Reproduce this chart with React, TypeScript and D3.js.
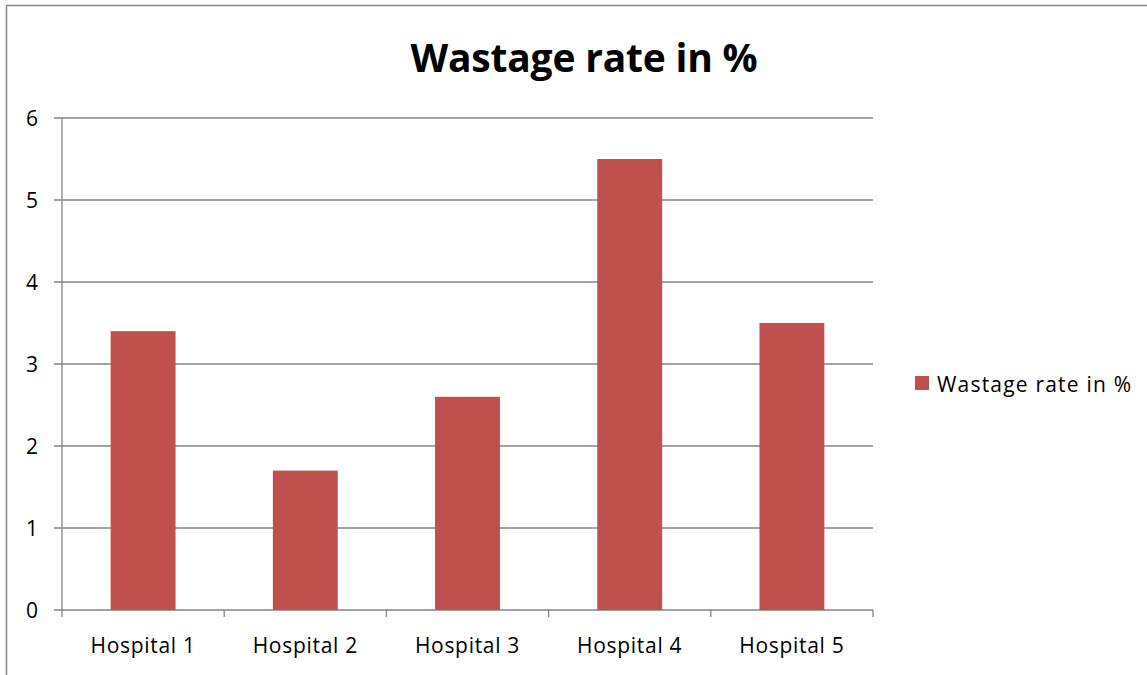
import React from "react";
import * as d3 from "d3";

const categories = ["Hospital 1", "Hospital 2", "Hospital 3", "Hospital 4", "Hospital 5"];
const wastageRate = [3.4, 1.7, 2.6, 5.5, 3.5];
const yTicks = [0, 1, 2, 3, 4, 5, 6];
const seriesName = "Wastage rate in %";
const chartTitle = "Wastage rate in %";

const W = 1147;
const H = 675;
const plot = { left: 62, right: 873, top: 118, bottom: 610 };
const barColor = "#C0504D";
const axisColor = "#868686";
const font = "'Open Sans', 'Noto Sans', sans-serif";

export default function App() {
  const x = d3
    .scaleBand<string>()
    .domain(categories)
    .range([plot.left, plot.right])
    .paddingInner(0.6)
    .paddingOuter(0.3);
  const band = d3.scaleBand<string>().domain(categories).range([plot.left, plot.right]);
  const y = d3.scaleLinear().domain([0, 6]).range([plot.bottom, plot.top]);

  return (
    <svg
      width={W}
      height={H}
      style={{ position: "fixed", left: 0, top: 0, background: "#fff", overflow: "hidden" }}
      fontFamily={font}
    >
      <rect x={6.5} y={5.5} width={W + 40} height={H + 40} fill="#fff" stroke={axisColor} strokeWidth={1.5} />
      <text x={584} y={72} textAnchor="middle" fontSize={39} fontWeight="bold" fill="#000" letterSpacing={-0.2}>
        {chartTitle}
      </text>
      {/* gridlines and y ticks */}
      {yTicks.map((t) => (
        <g key={t}>
          <line x1={plot.left - 8} x2={plot.right} y1={y(t)} y2={y(t)} stroke={axisColor} strokeWidth={1.3} />
          <text x={38} y={y(t)} dy="0.36em" textAnchor="end" fontSize={21} fill="#000">
            {t}
          </text>
        </g>
      ))}
      <line x1={plot.left} x2={plot.left} y1={plot.top} y2={plot.bottom + 1} stroke={axisColor} strokeWidth={1.3} />
      {/* category ticks */}
      {categories.map((c) => (
        <line
          key={"t" + c}
          x1={band(c)!}
          x2={band(c)!}
          y1={plot.bottom}
          y2={plot.bottom + 7}
          stroke={axisColor}
          strokeWidth={1.3}
        />
      ))}
      <line x1={plot.right} x2={plot.right} y1={plot.bottom} y2={plot.bottom + 7} stroke={axisColor} strokeWidth={1.3} />
      {/* bars */}
      {categories.map((c, i) => (
        <rect
          key={c}
          x={x(c)!}
          y={y(wastageRate[i])}
          width={x.bandwidth()}
          height={y(0) - y(wastageRate[i])}
          fill={barColor}
        />
      ))}
      {categories.map((c) => (
        <text
          key={"l" + c}
          x={band(c)! + band.bandwidth() / 2}
          y={653}
          textAnchor="middle"
          fontSize={21}
          fill="#000"
          letterSpacing={0.7}
        >
          {c}
        </text>
      ))}
      {/* legend */}
      <rect x={915} y={376} width={14} height={14} fill={barColor} />
      <text x={937} y={392} fontSize={21} fill="#000" letterSpacing={1.2}>
        {seriesName}
      </text>
    </svg>
  );
}
